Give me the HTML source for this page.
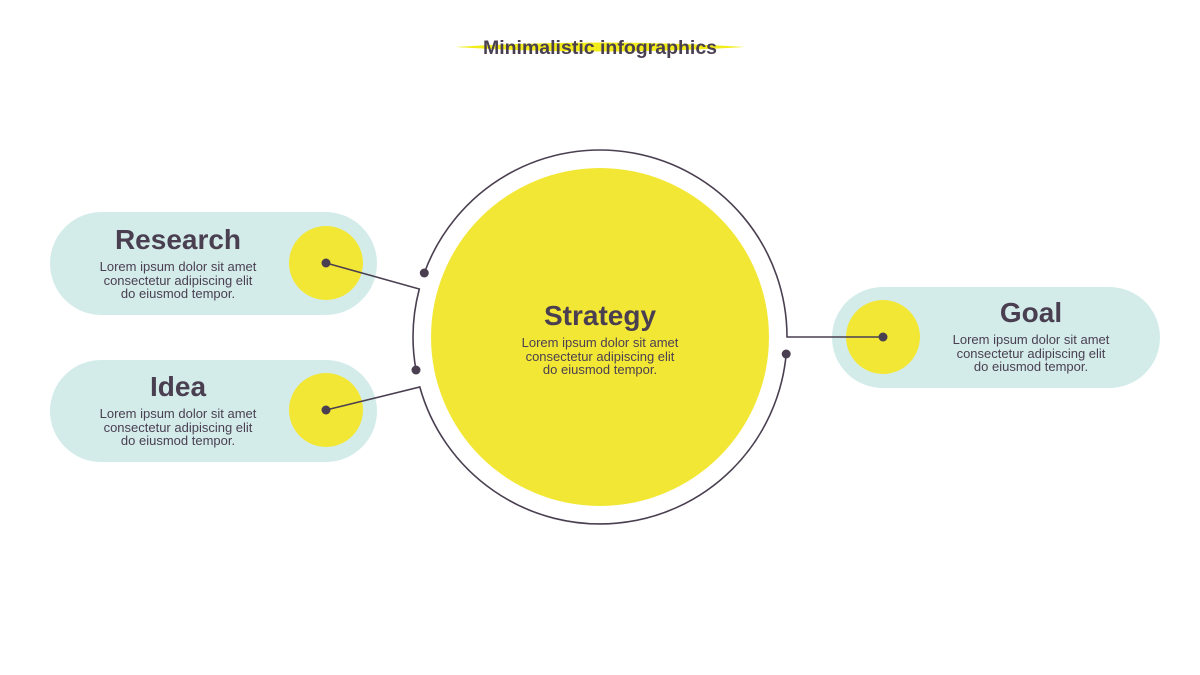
<!DOCTYPE html>
<html><head><meta charset="utf-8"><style>
html,body{margin:0;padding:0;background:#fff}
svg{display:block}
.t{font-family:"Liberation Sans",sans-serif;font-weight:bold;fill:#4a3f50}
.b{font-family:"Liberation Sans",sans-serif;font-size:13px;fill:#4a3f50}
</style></head><body>
<svg width="1200" height="675" viewBox="0 0 1200 675" xmlns="http://www.w3.org/2000/svg">
<rect width="1200" height="675" fill="#fff"/>
<path d="M455 47 Q600 38 745 47 Q600 56 455 47Z" fill="#f2ec1a"/>
<text x="600" y="54" text-anchor="middle" class="t" font-size="19.5">Minimalistic infographics</text>

<rect x="50" y="212" width="327" height="103" rx="51.5" fill="#d3ecea"/>
<rect x="50" y="360" width="327" height="102" rx="51" fill="#d3ecea"/>
<rect x="832" y="287" width="328" height="101" rx="50.5" fill="#d3ecea"/>
<circle cx="326" cy="263" r="37" fill="#f3e736"/>
<circle cx="326" cy="410" r="37" fill="#f3e736"/>
<circle cx="883" cy="337" r="37" fill="#f3e736"/>
<circle cx="600" cy="337" r="169" fill="#f3e736"/>

<g fill="none" stroke="#4a3f50" stroke-width="1.6">
<path d="M424.3 273 A187 187 0 0 1 787 337 L883 337"/>
<path d="M786.2 354 A187 187 0 0 1 419.8 387 L326 410"/>
<path d="M326 263 L419.3 289 A187 187 0 0 0 416 370"/>
</g>
<g fill="#4a3f50">
<circle cx="424.3" cy="273" r="4.5"/><circle cx="416" cy="370" r="4.5"/><circle cx="786.2" cy="354" r="4.5"/>
<circle cx="326" cy="263" r="4.5"/><circle cx="326" cy="410" r="4.5"/><circle cx="883" cy="337" r="4.5"/>
</g>

<text x="178" y="249" text-anchor="middle" class="t" font-size="28">Research</text>
<text x="178" y="271" text-anchor="middle" class="b">Lorem ipsum dolor sit amet</text>
<text x="178" y="285" text-anchor="middle" class="b">consectetur adipiscing elit</text>
<text x="178" y="298" text-anchor="middle" class="b">do eiusmod tempor.</text>

<text x="178" y="396" text-anchor="middle" class="t" font-size="28">Idea</text>
<text x="178" y="418" text-anchor="middle" class="b">Lorem ipsum dolor sit amet</text>
<text x="178" y="432" text-anchor="middle" class="b">consectetur adipiscing elit</text>
<text x="178" y="445" text-anchor="middle" class="b">do eiusmod tempor.</text>

<text x="1031" y="322" text-anchor="middle" class="t" font-size="28">Goal</text>
<text x="1031" y="344" text-anchor="middle" class="b">Lorem ipsum dolor sit amet</text>
<text x="1031" y="358" text-anchor="middle" class="b">consectetur adipiscing elit</text>
<text x="1031" y="371" text-anchor="middle" class="b">do eiusmod tempor.</text>

<text x="600" y="325" text-anchor="middle" class="t" font-size="28">Strategy</text>
<text x="600" y="347" text-anchor="middle" class="b">Lorem ipsum dolor sit amet</text>
<text x="600" y="361" text-anchor="middle" class="b">consectetur adipiscing elit</text>
<text x="600" y="374" text-anchor="middle" class="b">do eiusmod tempor.</text>
</svg>
</body></html>
